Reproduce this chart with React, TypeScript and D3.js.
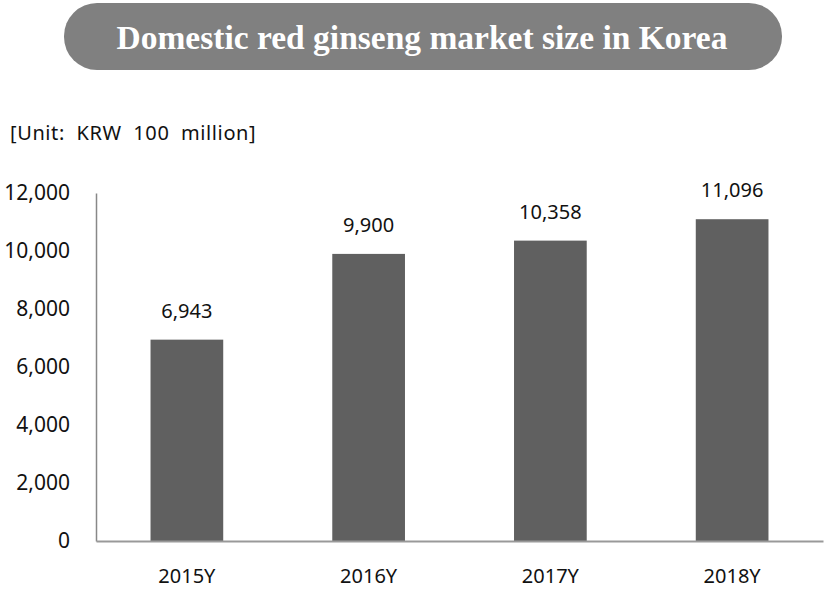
import React, { useRef, useEffect } from 'react';
import * as d3 from 'd3';

const years = ['2015Y', '2016Y', '2017Y', '2018Y'];
const marketSize = [6943, 9900, 10358, 11096];
const yTicks = [0, 2000, 4000, 6000, 8000, 10000, 12000];
const titleText = 'Domestic red ginseng market size in Korea';
const unitText = '[Unit:  KRW  100  million]';

const W = 827;
const H = 589;
const margin = { left: 96, right: 4, top: 193, bottom: 48 };
const FONT = '"Noto Sans", "DejaVu Sans", sans-serif';

export default function App() {
  const svgRef = useRef<SVGSVGElement>(null);

  useEffect(() => {
    const svg = d3.select(svgRef.current);
    svg.selectAll('*').remove();

    const x = d3
      .scaleBand()
      .domain(years)
      .range([margin.left, W - margin.right])
      .paddingInner(0.6)
      .paddingOuter(0.3);
    const y = d3
      .scaleLinear()
      .domain([0, 12000])
      .range([H - margin.bottom, margin.top]);

    // title pill
    svg
      .append('rect')
      .attr('x', 64)
      .attr('y', 3)
      .attr('width', 718)
      .attr('height', 67)
      .attr('rx', 33)
      .attr('fill', '#808080');
    svg
      .append('text')
      .attr('x', 422)
      .attr('y', 49)
      .attr('text-anchor', 'middle')
      .attr('fill', '#fff')
      .attr('font-family', '"Liberation Serif", "Times New Roman", serif')
      .attr('font-weight', 'bold')
      .attr('font-size', 33.5)
      .text(titleText);

    svg
      .append('text')
      .attr('x', 10)
      .attr('y', 140)
      .attr('font-family', FONT)
      .attr('font-size', 20)
      .attr('letter-spacing', 0.6)
      .attr('fill', '#111')
      .style('white-space', 'pre')
      .text(unitText);

    // bars
    svg
      .selectAll('.bar')
      .data(marketSize)
      .join('rect')
      .attr('class', 'bar')
      .attr('x', (d, i) => x(years[i])!)
      .attr('y', (d) => y(d))
      .attr('width', x.bandwidth())
      .attr('height', (d) => y(0) - y(d))
      .attr('fill', '#606060');

    svg
      .selectAll('.val')
      .data(marketSize)
      .join('text')
      .attr('class', 'val')
      .attr('x', (d, i) => x(years[i])! + x.bandwidth() / 2)
      .attr('y', (d) => y(d) - 22)
      .attr('text-anchor', 'middle')
      .attr('font-family', FONT)
      .attr('font-size', 20)
      .attr('fill', '#111')
      .text((d) => d3.format(',')(d));

    // y axis
    const yAxis = d3
      .axisLeft(y)
      .tickValues(yTicks)
      .tickFormat((d) => d3.format(',')(d as number))
      .tickSize(0)
      .tickPadding(26);
    const gy = svg
      .append('g')
      .attr('transform', `translate(${margin.left},0)`)
      .call(yAxis);
    gy.select('.domain').attr('stroke', '#888').attr('stroke-width', 1.5);
    gy.selectAll('text')
      .attr('font-family', FONT)
      .attr('font-size', 21)
      .attr('fill', '#111');

    // x axis
    const xAxis = d3.axisBottom(x).tickSize(0).tickPadding(28);
    const gx = svg
      .append('g')
      .attr('transform', `translate(0,${H - margin.bottom})`)
      .call(xAxis);
    gx.select('.domain').attr('stroke', '#999').attr('stroke-width', 2);
    gx.selectAll('text')
      .attr('font-family', FONT)
      .attr('font-size', 20)
      .attr('fill', '#111');
  }, []);

  return (
    <div style={{ position: 'absolute', left: 0, top: 0 }}>
      <svg ref={svgRef} width={W} height={H} />
    </div>
  );
}
